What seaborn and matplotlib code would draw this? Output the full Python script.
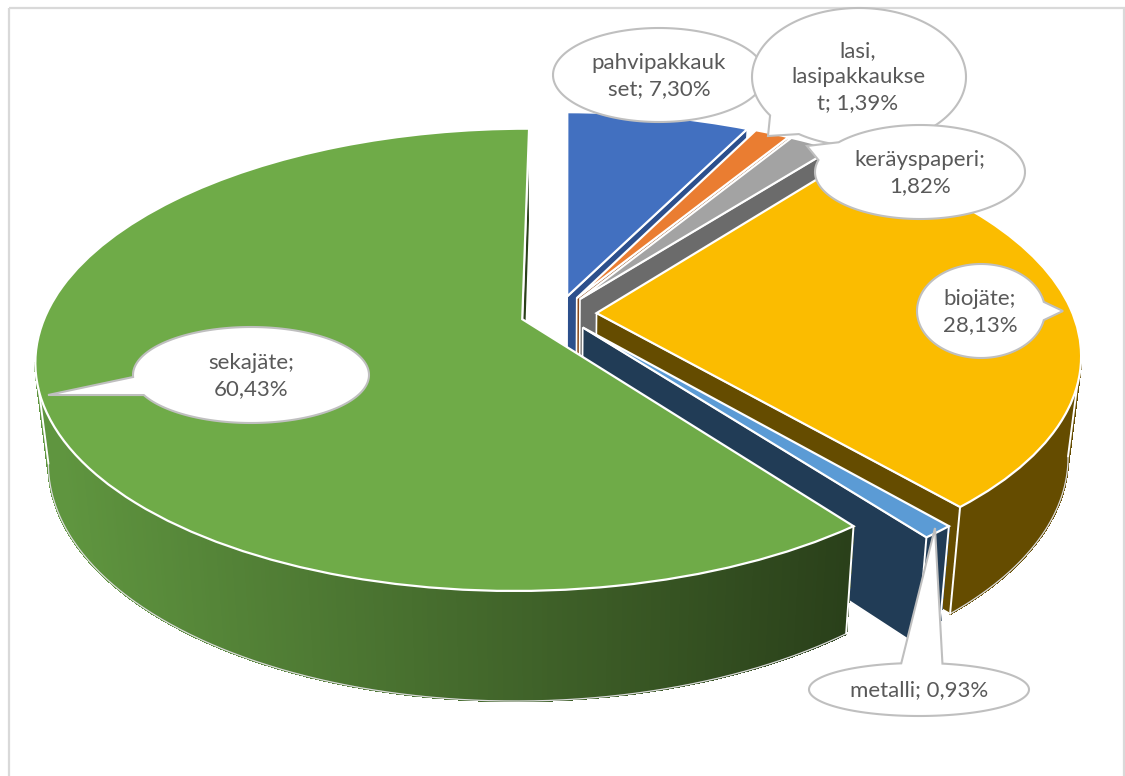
import numpy as np
import matplotlib
matplotlib.use("Agg")
import matplotlib.pyplot as plt
import matplotlib.transforms as mtransforms
from matplotlib.collections import PolyCollection
from matplotlib.patches import Polygon, Rectangle
from matplotlib.colors import to_rgb
import seaborn as sns

# ---- data ----
categories = ["pahvipakkauk\nset", "lasi,\nlasipakkaukse\nt", "keräyspaperi", "biojäte", "metalli", "sekajäte"]
separators = ["; ", "; ", ";\n", ";\n", "; ", ";\n"]
values = [7.30, 1.39, 1.82, 28.13, 0.93, 60.43]
explode_share = [0.08, 0.08, 0.08, 0.08, 0.08, 0.08]

# ---- style ----
top_colors = ["#4270c0", "#ea7d31", "#a3a3a3", "#fbbc00", "#5b9bd5", "#6fab48"]
side_start = ["#2c4f8c", "#8a4a1b", "#6b6b6b", "#654c00", "#213c56", "#5f953f"]
side_end = ["#2c4f8c", "#8a4a1b", "#6b6b6b", "#654c00", "#213c56", "#2a401a"]
text_color = "#595959"
callout_edge = "#bfbfbf"

sns.set_theme(style="white")
plt.rcParams["font.family"] = ["Lato", "DejaVu Sans"]
palette = sns.color_palette(top_colors)

# ---- perspective of the pie plane ----
XC, YC = 558.5, 313.5
A, B, K = 476.0, 222.0, 0.175
SHRINK, DROP, STRETCH = 0.975, 99.0, 0.04


def project(x, y, lower=False):
    w = 1 + K * y
    X = XC + A * x / w
    Y = YC - B * y / w
    if lower:
        X = XC + SHRINK * (X - XC)
        Y = Y + DROP + STRETCH * (Y - YC)
    return X, Y


class Plane(mtransforms.Transform):
    input_dims = output_dims = 2
    has_inverse = False

    def transform_non_affine(self, pts):
        pts = np.asarray(pts, dtype=float)
        X, Y = project(pts[:, 0], pts[:, 1])
        return np.column_stack([X, Y])


fig = plt.figure(figsize=(11.25, 7.76), dpi=100, facecolor="white")
ax = fig.add_axes([0, 0, 1, 1])
wedges, _ = ax.pie(values, explode=explode_share, colors=palette, startangle=89.8, counterclock=False,
                   wedgeprops=dict(edgecolor="white", linewidth=1.6))
ax.set_aspect("auto")
ax.set_xlim(0, 1125)
ax.set_ylim(776, 0)
ax.axis("off")

ax.add_patch(Rectangle((9, 8), 1115, 900, facecolor="none", edgecolor="#d9d9d9", linewidth=1.6, zorder=0.5))

plane = Plane() + ax.transData
z = 2.0
for i, w in enumerate(wedges):
    cx, cy = w.center
    t1, t2 = w.theta1, w.theta2
    apex = np.array(project(cx, cy))
    tm = np.radians((t1 + t2) / 2)
    mid = np.array(project(cx + 0.5 * np.cos(tm), cy + 0.5 * np.sin(tm)))
    # the cut faces that look towards the viewer
    for t in (t2, t1):
        ox, oy = cx + np.cos(np.radians(t)), cy + np.sin(np.radians(t))
        edge = np.array(project(ox, oy)) - apex
        side_in = edge[0] * (mid - apex)[1] - edge[1] * (mid - apex)[0]
        side_down = edge[0]
        if side_in * side_down >= 0:
            continue
        pts = [project(cx, cy), project(ox, oy), project(ox, oy, True), project(cx, cy, True)]
        ax.add_patch(Polygon(pts, closed=True, facecolor=side_end[i],
                             edgecolor="white", linewidth=1.2, zorder=z))
        z += 0.01
    # the outer wall, as many narrow strips; only the part facing the viewer
    th = np.radians(np.linspace(t1, t2, max(int((t2 - t1) * 2), 2) + 1))
    ux, uy = project(cx + np.cos(th), cy + np.sin(th))
    lx, ly = project(cx + np.cos(th), cy + np.sin(th), True)
    c0, c1 = np.array(to_rgb(side_start[i])), np.array(to_rgb(side_end[i]))
    keep = [j for j in range(len(th) - 1) if ux[j + 1] > ux[j] and uy[j] > YC - 60]
    if keep:
        quads, cols = [], []
        for j in keep:
            quads.append([(ux[j], uy[j]), (ux[j + 1], uy[j + 1]), (lx[j + 1], ly[j + 1]), (lx[j], ly[j])])
            f = np.clip((ux[j] - 60) / 790, 0, 1)
            cols.append(c0 + (c1 - c0) * f)
        ax.add_collection(PolyCollection(quads, facecolors=cols, edgecolors=cols, linewidths=1.0,
                                         antialiaseds=False, zorder=z))
        z += 0.01
        vis = keep + [keep[-1] + 1]
        ax.plot(lx[vis], ly[vis], color="#dcdcdc", lw=0.9, zorder=z, solid_capstyle="round")
        for e in (keep[0], keep[-1] + 1):
            ax.plot([ux[e], lx[e]], [uy[e], ly[e]], color="white", lw=1.4, zorder=z)
        z += 0.01
    # the top
    w.set_transform(plane)
    w.set_clip_on(False)
    w.set_zorder(z)
    z += 0.01


def label(i):
    return f"{categories[i]}{separators[i]}{values[i]:.2f}".replace(".", ",") + "%"


def callout(i, c, rx, ry, tip=None, base=None, text_xy=None):
    zc = 10 + callout_order.index(i)
    cx, cy = c
    if tip is None:
        t = np.radians(np.linspace(0, 360, 180, endpoint=False))
        pts = np.column_stack([cx + rx * np.cos(t), cy + ry * np.sin(t)])
    else:
        ta, tb = [np.degrees(np.arctan2((b[1] - cy) / ry, (b[0] - cx) / rx)) for b in base]
        d = (tb - ta) % 360
        if d < 180:
            arc = np.radians(np.linspace(tb, ta + 360 if ta < tb else ta, 180))
        else:
            arc = np.radians(np.linspace(ta, ta + d, 180))
        pts = np.column_stack([cx + rx * np.cos(arc), cy + ry * np.sin(arc)])
        pts = np.vstack([pts, tip])
    ax.add_patch(Polygon(pts, closed=True, facecolor="white", edgecolor=callout_edge, linewidth=1.5,
                         joinstyle="miter", zorder=zc))
    tx, ty = text_xy or c
    ax.text(tx, ty, label(i), ha="center", va="center", color=text_color, fontsize=16,
            linespacing=1.38, zorder=zc + 0.5)


callout_order = [0, 1, 2, 3, 4, 5]
callout(5, (251, 375), 118, 48, tip=(48, 395), base=[(133, 377), (144, 395)], text_xy=(251, 376))
callout(3, (981, 311), 64, 47, tip=(1063, 311), base=[(1043, 302), (1043, 320)], text_xy=(980, 312))
callout(0, (659, 75), 106, 47, text_xy=(659, 76))
callout(1, (859, 77), 107, 69, tip=(768, 136), base=[(771, 115), (800, 133)], text_xy=(858, 77))
callout(2, (920, 172), 105, 47, tip=(807, 146), base=[(838, 142), (818, 160)], text_xy=(920, 173))
callout(4, (919, 689.5), 110, 26.5, tip=(935, 528), base=[(901, 663), (943, 663)], text_xy=(919, 690))

fig.savefig("out.png", dpi=100)
